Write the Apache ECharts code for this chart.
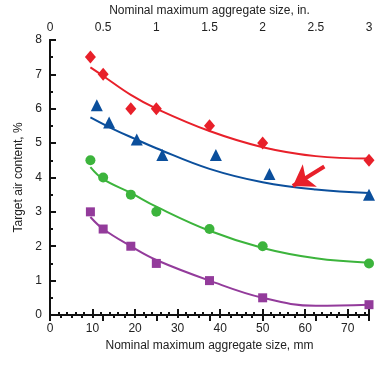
<!DOCTYPE html>
<html><head><meta charset="utf-8">
<script src="https://cdn.jsdelivr.net/npm/echarts@6/dist/echarts.min.js"></script>
<style>html,body{margin:0;padding:0;background:#fff}#c{width:377px;height:365px}</style>
</head><body><div id="c"></div>
<script>
// Measured points (x in mm, y in %)
const redX = [9.5, 12.5, 19, 25, 37.5, 50, 75];
const redY = [7.5, 7.0, 6.0, 6.0, 5.5, 5.0, 4.5];
const blueX = [11, 13.9, 20.4, 26.4, 39, 51.6, 75];
const blueY = [6.1, 5.6, 5.1, 4.65, 4.65, 4.1, 3.5];
const greenX = [9.5, 12.5, 19, 25, 37.5, 50, 75];
const greenY = [4.5, 4.0, 3.5, 3.0, 2.5, 2.0, 1.5];
const purpleX = [9.5, 12.5, 19, 25, 37.5, 50, 75];
const purpleY = [3.0, 2.5, 2.0, 1.5, 1.0, 0.5, 0.3];
// Fitted curves
const curveX = [9.5, 12.5, 19, 25, 37.5, 50, 62.5, 75];
const redCurve = [7.2, 6.95, 6.4, 6.0, 5.35, 4.88, 4.62, 4.55];
const blueCurveX = [9.5, 15, 20, 25, 37.5, 50, 62.5, 75];
const blueCurve = [5.75, 5.4, 5.12, 4.85, 4.25, 3.86, 3.65, 3.55];
const greenCurve = [4.3, 3.95, 3.55, 3.15, 2.45, 1.95, 1.65, 1.52];
const purpleCurve = [2.85, 2.5, 2.0, 1.6, 1.0, 0.5, 0.27, 0.3];
const arrowFrom = [64.5, 4.32];
const arrowTo = [57.1, 3.75];

const RED = '#e8202a', BLUE = '#0b4f9c', GREEN = '#3cb43c', PURPLE = '#933b9b';
const zip = (xs, ys) => xs.map((x, i) => [x, ys[i]]);
const font = 'Liberation Sans';
const txt = {color: '#222', fontFamily: font, fontSize: 12};

function pts(name, xs, ys, sym, size, color) {
  return {type: 'scatter', data: zip(xs, ys), symbol: sym, symbolSize: size,
    itemStyle: {color, opacity: 1}, z: 5, xAxisIndex: 0, yAxisIndex: 0};
}
function curve(xs, ys, color, extra) {
  return Object.assign({type: 'line', data: zip(xs, ys), smooth: 0.4, showSymbol: false,
    lineStyle: {color, width: 2}, z: 3, xAxisIndex: 0, yAxisIndex: 0}, extra || {});
}

const chart = echarts.init(document.getElementById('c'), null, {renderer: 'canvas'});
chart.setOption({
  animation: false,
  grid: {left: 50, right: 8, top: 29, bottom: 50},
  xAxis: [
    {type: 'value', min: 0, max: 75, interval: 10, position: 'bottom',
     name: 'Nominal maximum aggregate size, mm', nameLocation: 'middle', nameGap: 24,
     nameTextStyle: txt, axisLabel: Object.assign({margin: 8, showMaxLabel: false}, txt),
     axisLine: {lineStyle: {color: '#111', width: 2}},
     axisTick: {inside: true, length: 6, lineStyle: {color: '#111', width: 2}},
     minorTick: {show: true, splitNumber: 5, length: 3, lineStyle: {color: '#111', width: 2}},
     splitLine: {show: false}},
    {type: 'value', min: 0, max: 3, interval: 0.5, position: 'top',
     name: 'Nominal maximum aggregate size, in.', nameLocation: 'middle', nameGap: 20,
     nameTextStyle: txt, axisLabel: Object.assign({margin: 6}, txt),
     axisLine: {lineStyle: {color: '#111', width: 2}},
     axisTick: {inside: true, length: 6, lineStyle: {color: '#111', width: 2}},
     minorTick: {show: true, splitNumber: 5, length: 3, lineStyle: {color: '#111', width: 2}},
     splitLine: {show: false}}
  ],
  yAxis: [
    {type: 'value', min: 0, max: 8, interval: 1, position: 'left',
     name: 'Target air content, %', nameLocation: 'middle', nameGap: 21,
     nameTextStyle: txt, axisLabel: Object.assign({margin: 8}, txt),
     axisLine: {show: true, lineStyle: {color: '#111', width: 2}},
     axisTick: {inside: true, length: 6, lineStyle: {color: '#111', width: 2}},
     minorTick: {show: true, splitNumber: 2, length: 3, lineStyle: {color: '#111', width: 2}},
     splitLine: {show: false}},
    {type: 'value', min: 0, max: 8, interval: 1, position: 'right',
     axisLabel: {show: false}, axisTick: {show: false},
     axisLine: {show: true, lineStyle: {color: '#111', width: 2}},
     splitLine: {show: false}}
  ],
  series: [
    curve(curveX, redCurve, RED),
    curve(blueCurveX, blueCurve, BLUE, {
      markLine: {silent: true, symbol: ['none', 'arrow'], symbolSize: 20,
        label: {show: false}, emphasis: {disabled: true},
        lineStyle: {color: RED, width: 4, type: 'solid', opacity: 1},
        itemStyle: {color: RED},
        data: [[{coord: arrowFrom}, {coord: arrowTo}]]}}),
    curve(curveX, greenCurve, GREEN),
    curve(curveX, purpleCurve, PURPLE),
    pts('red', redX, redY, 'diamond', [11, 13], RED),
    pts('blue', blueX, blueY, 'triangle', 12, BLUE),
    pts('green', greenX, greenY, 'circle', 10, GREEN),
    pts('purple', purpleX, purpleY, 'rect', 9, PURPLE)
  ]
});
</script></body></html>
